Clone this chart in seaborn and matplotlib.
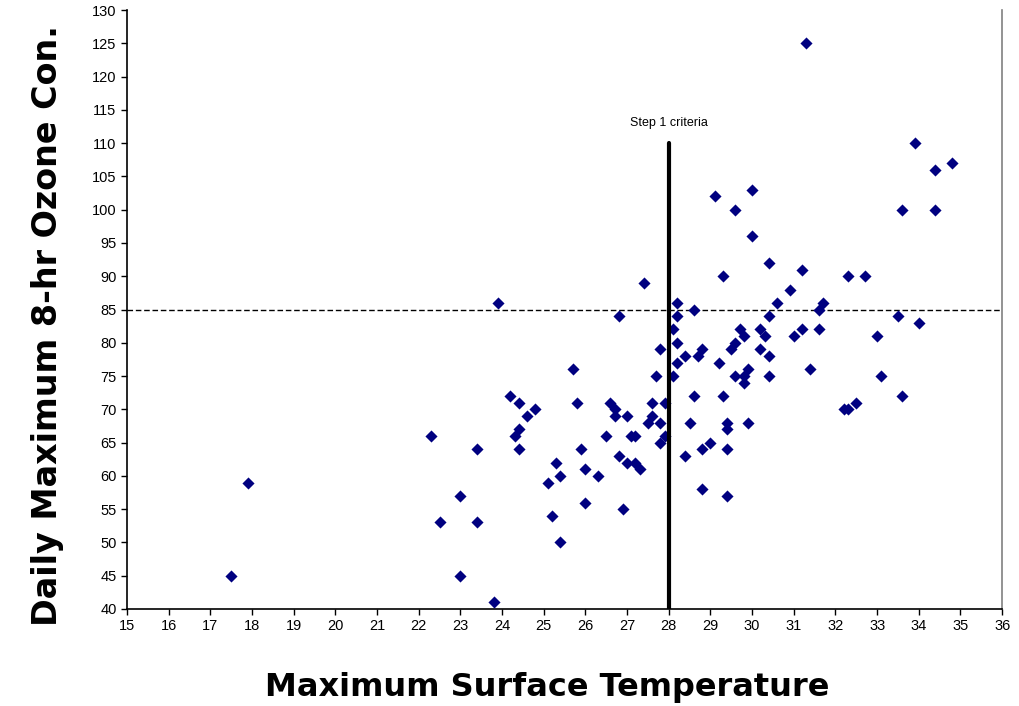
import numpy as np
import matplotlib.pyplot as plt
import seaborn as sns
import pandas as pd

# Scatter values
max_temp = [17.5, 17.9, 22.3, 22.5, 23.0, 23.0, 23.4, 23.4, 23.8, 23.9,
            24.2, 24.4, 24.8, 24.6, 24.4, 24.3, 24.4, 25.7, 25.8, 25.3,
            25.4, 25.1, 25.2, 25.4, 25.9, 26.0, 26.3, 26.0, 26.5, 26.6,
            26.7, 26.7, 26.8, 26.8, 26.9, 27.0, 27.0, 27.1, 27.2, 27.2,
            27.3, 27.4, 27.5, 27.6, 27.6, 27.7, 27.8, 27.8, 27.8, 27.9,
            27.9, 28.1, 28.1, 28.2, 28.2, 28.2, 28.2, 28.4, 28.4, 28.5,
            28.6, 28.6, 28.7, 28.8, 28.8, 28.8, 29.0, 29.1, 29.2, 29.3,
            29.3, 29.4, 29.4, 29.4, 29.4, 29.5, 29.6, 29.6, 29.6, 29.7,
            29.8, 29.8, 29.8, 29.9, 29.9, 30.0, 30.0, 30.2, 30.3, 30.2,
            30.4, 30.4, 30.4, 30.4, 30.6, 30.9, 31.0, 31.2, 31.2, 31.3,
            31.4, 31.6, 31.6, 31.7, 32.2, 32.3, 32.3, 32.5, 32.7, 33.0,
            33.1, 33.5, 33.6, 33.6, 33.9, 34.0, 34.4, 34.4, 34.8]
ozone = [45, 59, 66, 53, 57, 45, 64, 53, 41, 86,
         72, 71, 70, 69, 67, 66, 64, 76, 71, 62,
         60, 59, 54, 50, 64, 61, 60, 56, 66, 71,
         70, 69, 84, 63, 55, 69, 62, 66, 66, 62,
         61, 89, 68, 71, 69, 75, 79, 68, 65, 71,
         66, 82, 75, 86, 84, 80, 77, 78, 63, 68,
         85, 72, 78, 79, 64, 58, 65, 102, 77, 90,
         72, 68, 67, 64, 57, 79, 100, 80, 75, 82,
         81, 75, 74, 76, 68, 103, 96, 82, 81, 79,
         92, 84, 78, 75, 86, 88, 81, 91, 82, 125,
         76, 85, 82, 86, 70, 70, 90, 71, 90, 81,
         75, 84, 100, 72, 110, 83, 106, 100, 107]

threshold_ozone = 85      # dashed horizontal line
criteria_temp = 28        # Step 1 criteria vertical line
criteria_top = 110

df = pd.DataFrame({"temp": max_temp, "ozone": ozone})

sns.set_style("white")
plt.rcParams['font.family'] = ['Liberation Sans', 'DejaVu Sans']
plt.rcParams['text.color'] = 'black'
plt.rcParams['axes.labelcolor'] = 'black'
plt.rcParams['xtick.color'] = 'black'
plt.rcParams['ytick.color'] = 'black'

fig = plt.figure(figsize=(10.2, 7.06), dpi=100)
ax = fig.add_axes([0.1245, 0.1374, 0.858, 0.8484])

sns.scatterplot(data=df, x="temp", y="ozone", marker="D", color="#000080",
                s=38, edgecolor="#000080", linewidth=0, ax=ax, zorder=3)

# reference lines
ax.axhline(threshold_ozone, color="black", linestyle=(0, (4, 2)), linewidth=1, zorder=2)
ax.plot([criteria_temp, criteria_temp], [40, criteria_top], color="black", linewidth=3, zorder=4)
ax.text(criteria_temp, 113, "Step 1 criteria", ha="center", va="center", fontsize=9)

ax.set_xlim(15, 36)
ax.set_ylim(40, 130)
ax.set_xticks(range(15, 37))
ax.set_yticks(range(40, 131, 5))
ax.tick_params(axis="both", direction="out", length=4, width=1, labelsize=10.5,
               colors="black", bottom=True, left=True)

for side in ["left", "bottom"]:
    ax.spines[side].set_color("black")
    ax.spines[side].set_linewidth(1.2)
ax.spines["right"].set_color("#808080")
ax.spines["right"].set_linewidth(1.2)
ax.spines["top"].set_visible(False)

ax.set_xlabel("Maximum Surface Temperature", fontsize=23, fontweight="bold",
              family=["DejaVu Sans"])
ax.set_ylabel("Daily Maximum 8-hr Ozone Con.", fontsize=24, fontweight="bold",
              family=["DejaVu Sans"])
ax.xaxis.set_label_coords(0.48, -0.105)
ax.yaxis.set_label_coords(-0.072, 0.474)

plt.savefig("out.png", dpi=100)
